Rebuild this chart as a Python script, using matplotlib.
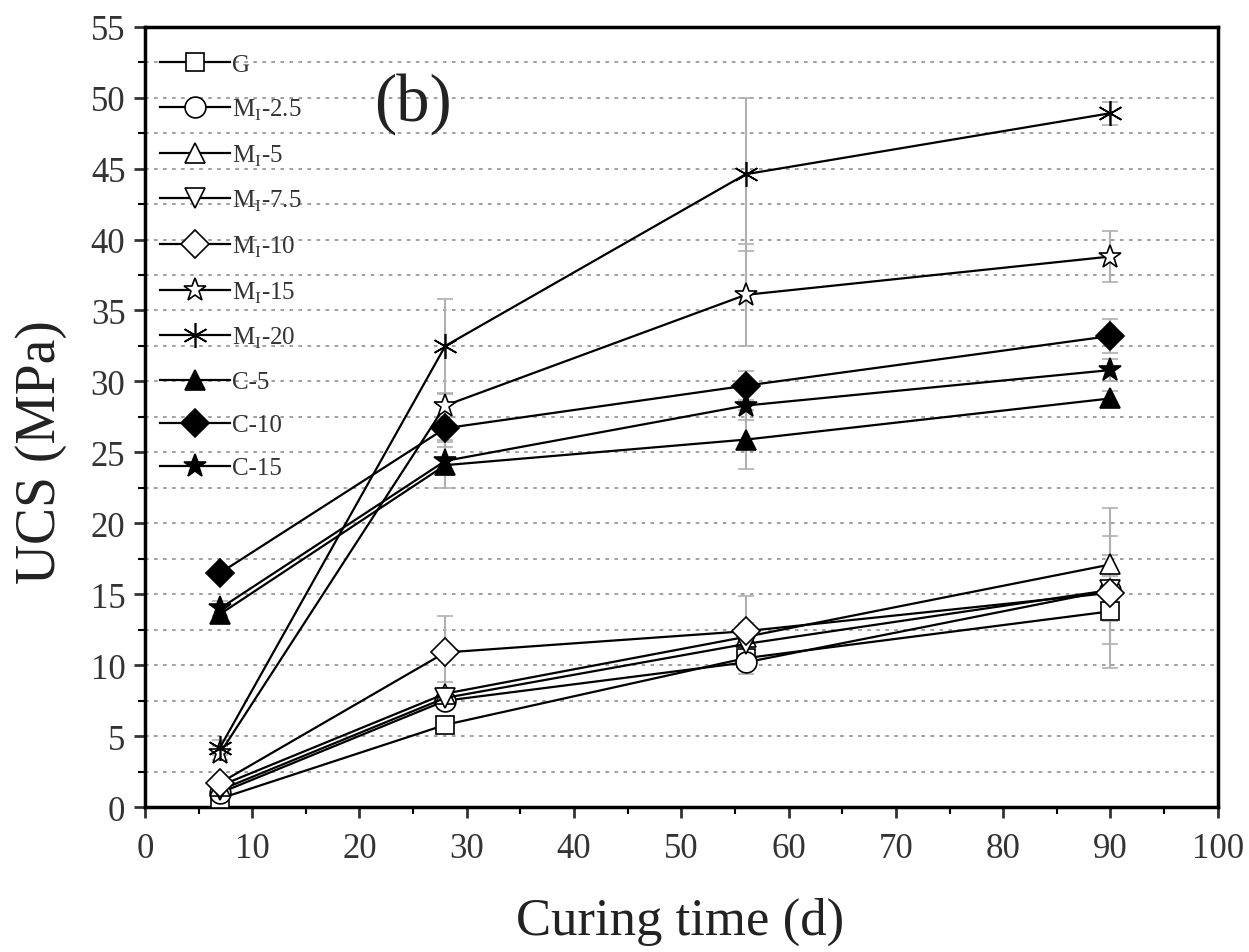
import matplotlib.pyplot as plt
import numpy as np
from matplotlib.ticker import MultipleLocator

plt.rcParams['font.family'] = ['Liberation Serif', 'DejaVu Serif']
plt.rcParams['mathtext.fontset'] = 'custom'
plt.rcParams['mathtext.rm'] = 'Liberation Serif'

# curing time (d)
days = [7, 28, 56, 90]

# UCS (MPa)
g = [0.6, 5.8, 10.5, 13.8]
m_25 = [1.0, 7.5, 10.2, 15.3]
m_5 = [1.5, 8.0, 12.0, 17.1]
m_75 = [1.2, 7.7, 11.5, 15.3]
m_10 = [1.7, 10.9, 12.4, 15.1]
m_15 = [3.8, 28.3, 36.1, 38.8]
m_20 = [4.2, 32.5, 44.6, 48.9]
c_5 = [13.6, 24.1, 25.9, 28.8]
c_10 = [16.5, 26.7, 29.7, 33.2]
c_15 = [14.0, 24.4, 28.3, 30.8]

# error bars (MPa)
g_err = [0.3, 0.6, 0.8, 4.0]
m_25_err = [0.3, 0.6, 0.8, 3.8]
m_5_err = [0.3, 0.8, 1.0, 4.0]
m_75_err = [0.3, 0.7, 1.0, 1.5]
m_10_err = [0.4, 2.6, 2.5, 1.2]
m_15_err = [0.5, 0.8, 3.6, 1.8]
m_20_err = [0.5, 3.3, 5.4, 0.8]
c_5_err = [0.5, 1.6, 2.1, 0.5]
c_10_err = [0.4, 0.8, 1.0, 1.2]
c_15_err = [0.5, 1.0, 1.0, 0.8]

labels = ['G', r'M$_{\rm I}$-2.5', r'M$_{\rm I}$-5', r'M$_{\rm I}$-7.5',
          r'M$_{\rm I}$-10', r'M$_{\rm I}$-15', r'M$_{\rm I}$-20',
          'C-5', 'C-10', 'C-15']
series = [g, m_25, m_5, m_75, m_10, m_15, m_20, c_5, c_10, c_15]
errors = [g_err, m_25_err, m_5_err, m_75_err, m_10_err, m_15_err,
          m_20_err, c_5_err, c_10_err, c_15_err]
markers = ['s', 'o', '^', 'v', 'D', '*', (6, 2, 0), '^', 'D', '*']
fills = ['white'] * 7 + ['black'] * 3
sizes = [13, 15, 15, 15, 14, 17, 18, 15, 14, 17]

fig = plt.figure(figsize=(12.49, 9.53), dpi=100)
ax = fig.add_axes([0.116, 0.152, 0.859, 0.819])

for y, e, lab, mk, fc, ms in zip(series, errors, labels, markers, fills, sizes):
    ax.errorbar(days, y, yerr=e, fmt='none', ecolor='#b0b0b0',
                elinewidth=1.5, capsize=6, capthick=1.2, zorder=1)
    ax.plot(days, y, '-', color='black', lw=1.6, marker=mk,
            markerfacecolor=fc, markeredgecolor='black', markeredgewidth=1.2,
            markersize=ms, label=lab, zorder=3)

ax.set_xlim(0, 100)
ax.set_ylim(0, 55)
ax.xaxis.set_major_locator(MultipleLocator(10))
ax.xaxis.set_minor_locator(MultipleLocator(5))
ax.yaxis.set_major_locator(MultipleLocator(5))
ax.yaxis.set_minor_locator(MultipleLocator(2.5))
ax.yaxis.grid(True, which='both', linestyle=(0, (2, 3)), color='#999999', lw=1.3)
ax.set_axisbelow(True)

ax.tick_params(which='major', direction='out', length=8, width=2, labelsize=25,
               colors='#333333')
ax.tick_params(axis='x', which='major', pad=10)
ax.tick_params(axis='y', which='major', pad=6)
ax.tick_params(which='minor', direction='out', length=5, width=1.5)
for s in ax.spines.values():
    s.set_linewidth(2.5)

ax.set_xlabel('Curing time (d)', fontsize=38, color='#222222', va='center')
ax.set_ylabel('UCS (MPa)', fontsize=40, color='#222222', va='center')
ax.xaxis.set_label_coords(0.4986, -0.146)
ax.yaxis.set_label_coords(-0.097, 0.456)

ax.text(25, 49.6, '(b)', fontsize=48, ha='center', va='center', color='#222222')

leg = ax.legend(loc='upper left', bbox_to_anchor=(0.007, 0.975), frameon=False,
                fontsize=18, handlelength=2.8, labelspacing=0.82,
                handletextpad=0.1, borderaxespad=0, borderpad=0.3)
for t in leg.get_texts():
    t.set_color('#333333')

fig.savefig('out.png', dpi=100)
